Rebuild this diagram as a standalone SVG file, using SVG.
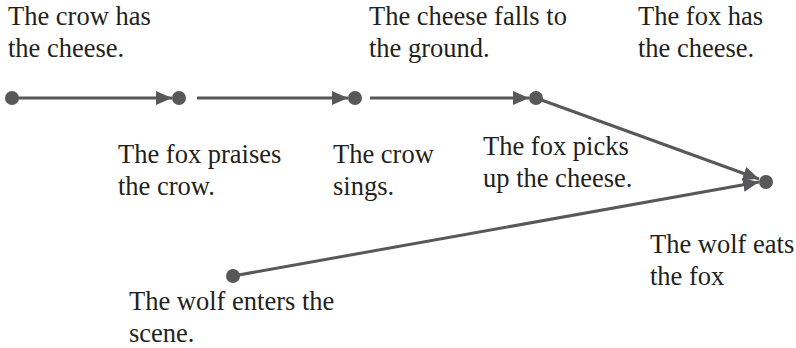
<svg xmlns="http://www.w3.org/2000/svg" width="796" height="348" viewBox="0 0 796 348">
<defs>
<marker id="ah" viewBox="0 0 16 14" refX="16" refY="7" markerWidth="16" markerHeight="14" markerUnits="userSpaceOnUse" orient="auto">
<path d="M0,0 L16,7 L0,14 Z" fill="#58585a"/>
</marker>
<style>
.n{fill:#58585a}
.e{stroke:#58585a;stroke-width:3;fill:none;marker-end:url(#ah)}
.t{font-family:'Liberation Serif','Times New Roman',serif;font-size:26.5px;fill:#231f20}
</style>
</defs>
<g id="connectors">
<line class="e" x1="12" y1="98" x2="172" y2="98"/>
<line class="e" x1="197" y1="98" x2="348" y2="98"/>
<line class="e" x1="370" y1="98" x2="529" y2="98"/>
<line class="e" x1="536" y1="98" x2="759" y2="179"/>
<line class="e" x1="233" y1="276" x2="759" y2="182"/>
</g>
<g id="n1"><circle class="n" cx="12" cy="98" r="7"/><text class="t" x="8" y="25">The crow has</text><text class="t" x="8" y="57">the cheese.</text></g>
<g id="n2"><circle class="n" cx="179" cy="98" r="7"/><text class="t" x="118" y="163">The fox praises</text><text class="t" x="118" y="195">the crow.</text></g>
<g id="n3"><circle class="n" cx="355" cy="98" r="7"/><text class="t" x="333" y="163">The crow</text><text class="t" x="333" y="195">sings.</text></g>
<g id="n4"><circle class="n" cx="536" cy="98" r="7"/><text class="t" x="483" y="155">The fox picks</text><text class="t" x="483" y="187">up the cheese.</text></g>
<g id="n5"><circle class="n" cx="766" cy="182" r="7"/><text class="t" x="650" y="253">The wolf eats</text><text class="t" x="650" y="285">the fox</text></g>
<g id="n6"><circle class="n" cx="233" cy="276" r="7"/><text class="t" x="129" y="310">The wolf enters the</text><text class="t" x="129" y="342">scene.</text></g>
<g id="l1"><text class="t" x="369" y="25">The cheese falls to</text><text class="t" x="369" y="57">the ground.</text></g>
<g id="l2"><text class="t" x="638" y="25">The fox has</text><text class="t" x="638" y="57">the cheese.</text></g>
</svg>
